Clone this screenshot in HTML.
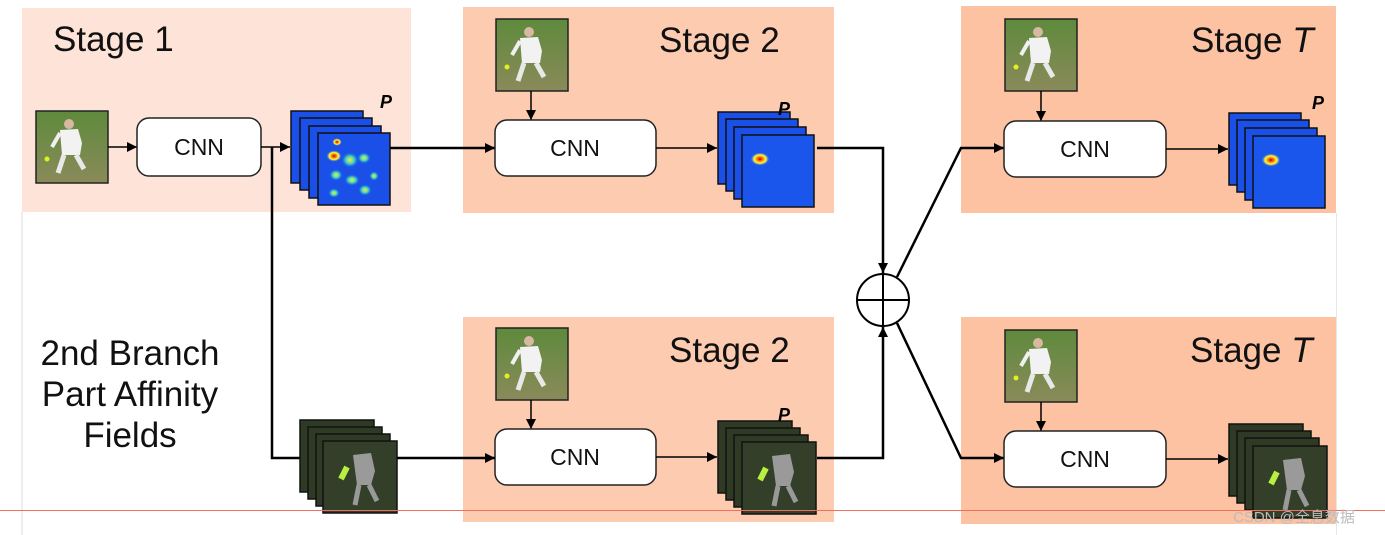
<!DOCTYPE html>
<html><head><meta charset="utf-8"><style>
html,body{margin:0;padding:0;background:#fff;width:1385px;height:535px;overflow:hidden}
text{font-family:"Liberation Sans","Noto Sans CJK SC",sans-serif}
</style></head><body>
<svg width="1385" height="535" viewBox="0 0 1385 535" xmlns="http://www.w3.org/2000/svg">
<defs>
<marker id="ah" viewBox="0 0 10 10" refX="10" refY="5" markerWidth="10" markerHeight="10" markerUnits="userSpaceOnUse" orient="auto"><path d="M0,0 L10,5 L0,10 z" fill="#000"/></marker>
<radialGradient id="hot" cx="0.5" cy="0.5" r="0.5"><stop offset="0" stop-color="#c00000"/><stop offset="0.3" stop-color="#ff8000"/><stop offset="0.6" stop-color="#ffff40"/><stop offset="1" stop-color="#1450f0" stop-opacity="0"/></radialGradient>
<radialGradient id="warm" cx="0.5" cy="0.5" r="0.5"><stop offset="0" stop-color="#f0f040"/><stop offset="0.5" stop-color="#40d0c0"/><stop offset="1" stop-color="#1450f0" stop-opacity="0"/></radialGradient>
<linearGradient id="grass" x1="0" y1="0" x2="0" y2="1"><stop offset="0" stop-color="#5e8a3c"/><stop offset="1" stop-color="#8a8a5a"/></linearGradient>
<g id="photo">
<rect x="0" y="0" width="72" height="72" fill="url(#grass)" stroke="#222" stroke-width="1.5"/>
<circle cx="33" cy="13" r="5" fill="#d8b8a0"/>
<path d="M24,19 L42,18 L46,32 L44,44 L26,44 L25,32 Z" fill="#f2f2f2"/>
<path d="M28,44 L22,62 M40,44 L48,58" stroke="#e8e8e8" stroke-width="5"/>
<path d="M24,22 L16,36" stroke="#f0f0f0" stroke-width="4"/>
<circle cx="11" cy="48" r="2.5" fill="#e0f020"/>
</g>
<g id="heat1">
<rect width="72" height="72" fill="#1a4fe8" stroke="#111" stroke-width="1.5"/>
</g>
<g id="heat">
<rect width="72" height="72" fill="#1a55ec" stroke="#111" stroke-width="1.5"/>
<ellipse cx="18" cy="24" rx="10" ry="7" fill="url(#hot)"/>
</g>
<g id="paf1"><rect width="74" height="72" fill="#2e3a24" stroke="#111" stroke-width="1.5"/></g>
<g id="paf">
<rect width="74" height="72" fill="#343f2a" stroke="#111" stroke-width="1.5"/>
<path d="M30,14 L48,12 L52,30 L48,44 L34,44 Z" fill="#9a9a9a"/>
<path d="M24,26 L18,38" stroke="#b8f040" stroke-width="6"/>
<path d="M36,44 L32,64 M46,44 L54,60" stroke="#999" stroke-width="5"/>
</g>
</defs>

<rect x="22" y="8" width="389" height="204" fill="#fde3d8"/>
<rect x="463" y="7" width="371" height="206" fill="#fdcbb0"/>
<rect x="961" y="6" width="375" height="207" fill="#fcc2a2"/>
<rect x="463" y="317" width="371" height="205" fill="#fdcbb0"/>
<rect x="961" y="317" width="375" height="207" fill="#fcc2a2"/>
<line x1="22" y1="212" x2="22" y2="535" stroke="#ddd" stroke-width="1"/>
<line x1="1336.5" y1="213" x2="1336.5" y2="535" stroke="#e6e6e6" stroke-width="1"/>

<text x="53" y="51" font-size="35" fill="#111">Stage 1</text>
<text x="659" y="52" font-size="35" fill="#111">Stage 2</text>
<text x="1191" y="52" font-size="35" fill="#111">Stage <tspan font-style="italic">T</tspan></text>
<text x="669" y="362" font-size="35" fill="#111">Stage 2</text>
<text x="1190" y="362" font-size="35" fill="#111">Stage <tspan font-style="italic">T</tspan></text>
<text x="130" y="365" font-size="35" fill="#111" text-anchor="middle">2nd Branch</text>
<text x="130" y="406" font-size="35" fill="#111" text-anchor="middle">Part Affinity</text>
<text x="130" y="447" font-size="35" fill="#111" text-anchor="middle">Fields</text>

<use href="#photo" x="36" y="111"/>
<line x1="108" y1="147" x2="137" y2="147" stroke="#000" stroke-width="1.5" marker-end="url(#ah)"/>
<rect x="137" y="118" width="124" height="58" rx="12" fill="#fff" stroke="#222" stroke-width="1.5"/>
<text x="199" y="155" font-size="23" text-anchor="middle" fill="#111">CNN</text>
<line x1="261" y1="147" x2="290" y2="147" stroke="#000" stroke-width="1.5" marker-end="url(#ah)"/>
<use href="#heat1" x="291" y="111"/><use href="#heat1" x="300" y="118"/><use href="#heat1" x="309" y="126"/>
<rect x="318" y="133" width="72" height="72" fill="#1a50e8" stroke="#111" stroke-width="1.5"/>
<ellipse cx="337" cy="142" rx="5" ry="4" fill="url(#hot)"/>
<ellipse cx="334" cy="156" rx="8" ry="6" fill="url(#hot)"/>
<ellipse cx="350" cy="160" rx="9" ry="8" fill="url(#warm)"/>
<ellipse cx="364" cy="158" rx="7" ry="6" fill="url(#warm)"/>
<ellipse cx="336" cy="175" rx="7" ry="6" fill="url(#warm)"/>
<ellipse cx="352" cy="180" rx="8" ry="6" fill="url(#warm)"/>
<ellipse cx="365" cy="190" rx="7" ry="6" fill="url(#warm)"/>
<ellipse cx="334" cy="193" rx="6" ry="5" fill="url(#warm)"/>
<ellipse cx="374" cy="176" rx="5" ry="5" fill="url(#warm)"/>
<text x="380" y="108" font-size="18" font-weight="bold" font-style="italic" fill="#000">P</text>

<polyline points="272,147 272,458 300,458" fill="none" stroke="#000" stroke-width="2.5"/>
<use href="#paf1" x="300" y="420"/><use href="#paf1" x="308" y="427"/><use href="#paf1" x="316" y="434"/><use href="#paf" x="323" y="441"/>

<line x1="390" y1="148" x2="495" y2="148" stroke="#000" stroke-width="2.5" marker-end="url(#ah)"/>
<use href="#photo" x="496" y="19"/>
<line x1="531" y1="91" x2="531" y2="120" stroke="#000" stroke-width="1.5" marker-end="url(#ah)"/>
<rect x="495" y="120" width="161" height="56" rx="12" fill="#fff" stroke="#222" stroke-width="1.5"/>
<text x="575" y="156" font-size="23" text-anchor="middle" fill="#111">CNN</text>
<line x1="656" y1="148" x2="717" y2="148" stroke="#000" stroke-width="1.5" marker-end="url(#ah)"/>
<use href="#heat1" x="718" y="112"/><use href="#heat1" x="726" y="119"/><use href="#heat1" x="734" y="127"/><use href="#heat" x="742" y="135"/>
<text x="778" y="115" font-size="18" font-weight="bold" font-style="italic" fill="#000">P</text>

<use href="#photo" x="496" y="328"/>
<line x1="531" y1="400" x2="531" y2="429" stroke="#000" stroke-width="1.5" marker-end="url(#ah)"/>
<rect x="495" y="429" width="161" height="56" rx="12" fill="#fff" stroke="#222" stroke-width="1.5"/>
<text x="575" y="465" font-size="23" text-anchor="middle" fill="#111">CNN</text>
<line x1="397" y1="458" x2="495" y2="458" stroke="#000" stroke-width="2.5" marker-end="url(#ah)"/>
<line x1="656" y1="457" x2="717" y2="457" stroke="#000" stroke-width="1.5" marker-end="url(#ah)"/>
<use href="#paf1" x="718" y="421"/><use href="#paf1" x="726" y="428"/><use href="#paf1" x="734" y="435"/><use href="#paf" x="742" y="442"/>
<text x="778" y="421" font-size="18" font-weight="bold" font-style="italic" fill="#000">P</text>

<polyline points="817,148 883,148 883,273" fill="none" stroke="#000" stroke-width="2.5" marker-end="url(#ah)"/>
<polyline points="817,458 883,458 883,327" fill="none" stroke="#000" stroke-width="2.5" marker-end="url(#ah)"/>
<circle cx="883" cy="300" r="26" fill="#fff" stroke="#000" stroke-width="2"/>
<line x1="857" y1="300" x2="909" y2="300" stroke="#000" stroke-width="2"/>
<line x1="883" y1="274" x2="883" y2="326" stroke="#000" stroke-width="2"/>
<polyline points="897,277 961,148 1004,148" fill="none" stroke="#000" stroke-width="2.5"/>
<line x1="990" y1="148" x2="1004" y2="148" stroke="#000" stroke-width="1.5" marker-end="url(#ah)"/>
<polyline points="897,323 961,458 1004,458" fill="none" stroke="#000" stroke-width="2.5"/>
<line x1="990" y1="458" x2="1004" y2="458" stroke="#000" stroke-width="1.5" marker-end="url(#ah)"/>

<use href="#photo" x="1005" y="19"/>
<line x1="1041" y1="91" x2="1041" y2="121" stroke="#000" stroke-width="1.5" marker-end="url(#ah)"/>
<rect x="1004" y="121" width="162" height="56" rx="12" fill="#fff" stroke="#222" stroke-width="1.5"/>
<text x="1085" y="157" font-size="23" text-anchor="middle" fill="#111">CNN</text>
<line x1="1166" y1="149" x2="1228" y2="149" stroke="#000" stroke-width="1.5" marker-end="url(#ah)"/>
<use href="#heat1" x="1229" y="113"/><use href="#heat1" x="1237" y="120"/><use href="#heat1" x="1245" y="128"/><use href="#heat" x="1253" y="136"/>
<text x="1312" y="109" font-size="18" font-weight="bold" font-style="italic" fill="#000">P</text>

<use href="#photo" x="1005" y="330"/>
<line x1="1041" y1="402" x2="1041" y2="431" stroke="#000" stroke-width="1.5" marker-end="url(#ah)"/>
<rect x="1004" y="431" width="162" height="56" rx="12" fill="#fff" stroke="#222" stroke-width="1.5"/>
<text x="1085" y="467" font-size="23" text-anchor="middle" fill="#111">CNN</text>
<line x1="1166" y1="459" x2="1228" y2="459" stroke="#000" stroke-width="1.5" marker-end="url(#ah)"/>
<use href="#paf1" x="1229" y="424"/><use href="#paf1" x="1237" y="431"/><use href="#paf1" x="1245" y="438"/><use href="#paf" x="1253" y="446"/>

<line x1="0" y1="510.5" x2="1385" y2="510.5" stroke="#f07060" stroke-width="1"/>
<text x="1233" y="522" font-size="15" fill="#bbb">CSDN @全息数据</text>
</svg>
</body></html>
